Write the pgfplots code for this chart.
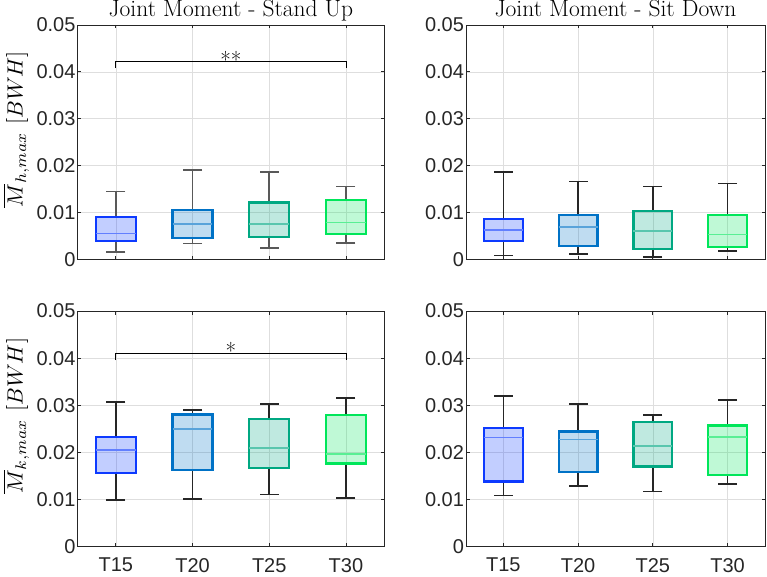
\documentclass[border=0pt]{standalone}
\usepackage{fontspec}
\usepackage{graphicx}
\usepackage{pgfplots}
\pgfplotsset{compat=1.18}
\newfontfamily\tickfont{Liberation Sans}
\definecolor{c1}{RGB}{13,58,255}
\definecolor{c2}{RGB}{0,114,198}
\definecolor{c3}{RGB}{0,168,130}
\definecolor{c4}{RGB}{0,230,90}
\definecolor{axc}{RGB}{38,38,38}
\colorlet{wcol}{black!80}
% #1 position, #2 colour, #3 lower whisker, #4 lower quartile, #5 median, #6 upper quartile, #7 upper whisker
\newcommand{\bx}[7]{%
  \pgfmathsetmacro\xl{#1-0.26}\pgfmathsetmacro\xr{#1+0.26}%
  \edef\tmp{%
    \noexpand\addplot[wcol, line width=1.6pt, mark=-, mark size=9.5pt, mark indices={2}, mark options={solid, line width=1.6pt}] coordinates {(#1,#6) (#1,#7)};
    \noexpand\addplot[wcol, line width=1.6pt, mark=-, mark size=9.5pt, mark indices={2}, mark options={solid, line width=1.6pt}] coordinates {(#1,#4) (#1,#3)};
    \noexpand\addplot[draw=#2, fill=#2, fill opacity=0.25, line width=2.3pt, mark=none] coordinates {(\xl,#4) (\xr,#4) (\xr,#6) (\xl,#6)} -- cycle;
    \noexpand\addplot[draw=#2!65, line width=1.6pt, mark=none] coordinates {(\xl,#5) (\xr,#5)};
  }\tmp}
\pgfplotsset{
  every axis title/.style={font=\fontsize{23.5}{28}\selectfont, at={(0.5,1)}, anchor=base, yshift=8pt, inner sep=0pt},
  myaxis/.style={scale only axis, anchor=north west,
    xmin=0.5, xmax=4.5, ymin=0, ymax=0.05,
    xtick={1,2,3,4}, xticklabels={T15,T20,T25,T30},
    ytick={0,0.01,0.02,0.03,0.04,0.05}, yticklabels={0,0.01,0.02,0.03,0.04,0.05},
    scaled y ticks=false, scaled x ticks=false,
    grid=major, grid style={line width=0.6pt, draw=black!13},
    axis line style={line width=0.9pt, draw=axc},
    major tick style={line width=0.9pt, draw=axc}, major tick length=3.5pt, tick align=inside,
    ticklabel style={font=\tickfont\fontsize{20}{24}\selectfont, text=axc},
    x tick label style={yshift=-8pt}, y tick label style={xshift=1.5pt},
    ylabel style={font=\fontsize{10}{12}\selectfont, at={(axis description cs:-0.2,0.555)}, anchor=center},
  },
  notx/.style={xticklabels={}}
}
\begin{document}
\begin{tikzpicture}
\path[use as bounding box] (0,0) rectangle (767pt,-577pt);
% top left
\colorlet{wcol}{black!65}
\begin{axis}[myaxis, notx, at={(77.5pt,-25pt)}, width=306.8pt, height=234.3pt,
  title={Joint Moment - Stand Up}, ylabel={\scalebox{2.2}{$\overline{M}_{h,max}\ [BWH]$}}]
\bx{1}{c1}{0.00156}{0.00384}{0.00554}{0.00908}{0.0145}
\bx{2}{c2}{0.00341}{0.00454}{0.00759}{0.01045}{0.0190}
\bx{3}{c3}{0.00240}{0.00482}{0.00759}{0.01215}{0.01868}
\bx{4}{c4}{0.00354}{0.00546}{0.00789}{0.01258}{0.01556}
\addplot[black, line width=0.8pt, mark=none] coordinates {(1,0.0408) (1,0.0423) (4,0.0423) (4,0.0408)};
\node[anchor=base, font=\fontsize{23}{27}\selectfont, yshift=-7pt] at (axis cs:2.5,0.0423) {**};
\end{axis}
% top right
\colorlet{wcol}{black!85}
\begin{axis}[myaxis, notx, at={(466pt,-25pt)}, width=299pt, height=234.3pt,
  title={Joint Moment - Sit Down}]
\bx{1}{c1}{0.00077}{0.0039}{0.00631}{0.00853}{0.01868}
\bx{2}{c2}{0.00107}{0.00277}{0.00695}{0.00951}{0.01663}
\bx{3}{c3}{0.00043}{0.00226}{0.0061}{0.01036}{0.01556}
\bx{4}{c4}{0.00177}{0.00262}{0.00525}{0.0095}{0.0162}
\end{axis}
% bottom left
\begin{axis}[myaxis, at={(77.5pt,-311pt)}, width=306.8pt, height=235.7pt,
  ylabel={\scalebox{2.2}{$\overline{M}_{k,max}\ [BWH]$}}]
\bx{1}{c1}{0.00992}{0.01558}{0.02047}{0.02323}{0.03066}
\bx{2}{c2}{0.01006}{0.01622}{0.02499}{0.02803}{0.02896}
\bx{3}{c3}{0.01104}{0.01664}{0.02096}{0.02705}{0.0303}
\bx{4}{c4}{0.01034}{0.01762}{0.01968}{0.0279}{0.0315}
\addplot[black, line width=0.8pt, mark=none] coordinates {(1,0.0396) (1,0.0411) (4,0.0411) (4,0.0396)};
\node[anchor=base, font=\fontsize{23}{27}\selectfont, yshift=-7pt] at (axis cs:2.5,0.0411) {*};
\end{axis}
% bottom right
\begin{axis}[myaxis, at={(466pt,-311pt)}, width=299pt, height=235.7pt]
\bx{1}{c1}{0.01083}{0.0138}{0.02314}{0.02514}{0.0320}
\bx{2}{c2}{0.01282}{0.01586}{0.02272}{0.02442}{0.03023}
\bx{3}{c3}{0.01168}{0.01699}{0.02131}{0.02641}{0.0279}
\bx{4}{c4}{0.01325}{0.01522}{0.02323}{0.0257}{0.03115}
\end{axis}
\end{tikzpicture}
\end{document}
